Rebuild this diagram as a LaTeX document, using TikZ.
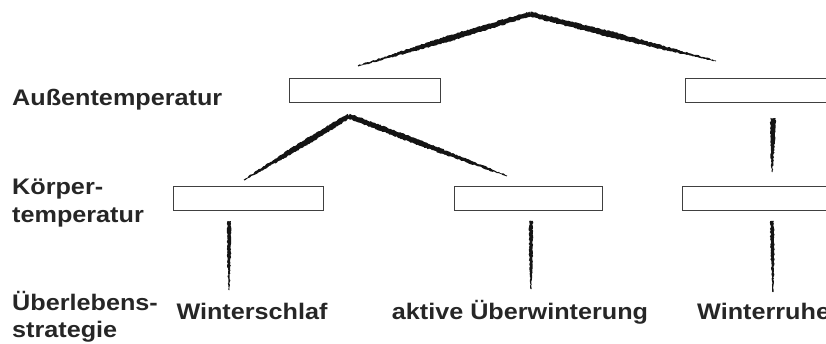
\documentclass[tikz,border=0pt]{standalone}
\usepackage{fontspec}
\setmainfont{Liberation Sans}[FakeStretch=1.12]
\usetikzlibrary{calc,decorations.pathmorphing}
% tapered brush stroke: from #1 to #2, half-widths #3 (start), #4 (middle), #5 (end)
\newcommand\taperline[5]{%
  \coordinate (tmpm) at ($(#1)!0.45!(#2)$);
  \fill[brush] ($(#1)!#3!90:(#2)$) -- ($(tmpm)!#4!90:(#2)$) -- ($(#2)!#5!-90:(#1)$) -- ($(#2)!#5!90:(#1)$) -- ($(tmpm)!#4!-90:(#2)$) -- ($(#1)!#3!-90:(#2)$) -- cycle;}
\begin{document}
\begin{tikzpicture}[x=1pt,y=-1pt,
  box/.style={draw=black!75, line width=1pt, fill=white, minimum height=24pt, inner sep=0pt},
  lbl/.style={font=\fontsize{22.5}{28}\selectfont\bfseries, text=black!85, inner sep=0pt},
  brush/.style={black!92, decorate, decoration={random steps, segment length=1.5pt, amplitude=0.6pt}}]
\useasboundingbox (0,0) rectangle (826,343);
\clip (0,0) rectangle (826,343);
% row labels
\node[lbl, anchor=base west] (laussen) at (12,105) {Außentemperatur};
\node[lbl, anchor=base west] (lkoerper1) at (12,194) {Körper-};
\node[lbl, anchor=base west] (lkoerper2) at (12,222) {temperatur};
\node[lbl, anchor=base west] (lueber1) at (12,310) {Überlebens-};
\node[lbl, anchor=base west] (lueber2) at (12,337) {strategie};
% boxes
\node[box, minimum width=151pt] (out1) at (364.5,90) {};
\node[box, minimum width=160pt] (out2) at (765,90) {};
\node[box, minimum width=150pt] (body1) at (248,198.5) {};
\node[box, minimum width=148pt] (body2) at (528,198.5) {};
\node[box, minimum width=160pt] (body3) at (762,198.5) {};
% strategies
\node[lbl, anchor=base] (s1) at (252,319) {Winterschlaf};
\node[lbl, anchor=base] (s2) at (520,319) {aktive Überwinterung};
\node[lbl, anchor=base west] (s3) at (697,319) {Winterruhe};
% connector points
\coordinate (p1) at (530,14);
\coordinate (p1l) at (358,66);
\coordinate (p1r) at (716,61);
\coordinate (p2) at (349,116);
\coordinate (p2l) at (244,180);
\coordinate (p2r) at (507,176);
\coordinate (v0a) at (773,118);
\coordinate (v0b) at (772,172);
\coordinate (v1a) at (229,221);
\coordinate (v1b) at (229,290);
\coordinate (v2a) at (531,221);
\coordinate (v2b) at (531,289);
\coordinate (v3a) at (772,221);
\coordinate (v3b) at (773,292);
% brush strokes
\taperline{p1}{p1l}{2.4pt}{3pt}{0.5pt}
\taperline{p1}{p1r}{2.4pt}{3pt}{0.5pt}
\taperline{p2}{p2l}{2.4pt}{3pt}{0.5pt}
\taperline{p2}{p2r}{2.4pt}{2.8pt}{0.5pt}
\taperline{v0a}{v0b}{2.6pt}{2.2pt}{0.5pt}
\taperline{v1a}{v1b}{1.8pt}{1.8pt}{0.5pt}
\taperline{v2a}{v2b}{1.8pt}{1.8pt}{0.5pt}
\taperline{v3a}{v3b}{1.8pt}{1.8pt}{0.5pt}
\end{tikzpicture}
\end{document}
